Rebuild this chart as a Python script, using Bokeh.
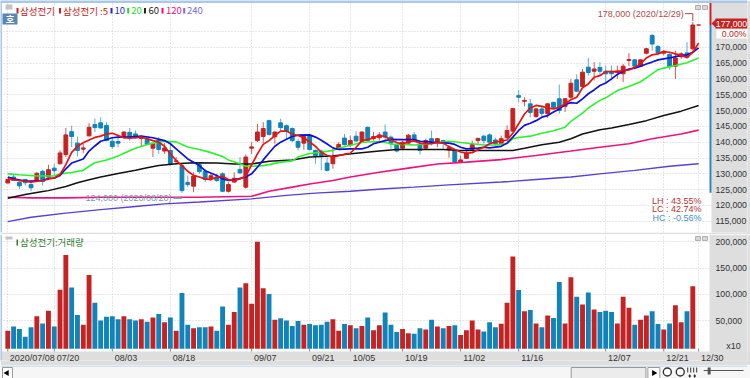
from bokeh.plotting import figure
from bokeh.layouts import column
from bokeh.models import (Range1d, FixedTicker, Grid, NumeralTickFormatter, Label, BoxAnnotation,
                          PolyAnnotation, Span, ColumnDataSource, LinearAxis)
from bokeh.embed import file_html
from bokeh.resources import INLINE

candle_top = [128200,129000,127300,128200,126600,130200,130800,131300,131800,136600,
 142300,143300,139700,138200,144700,145600,146100,145300,140300,140200,
 143200,143100,142600,141800,141100,139500,140700,138200,137400,134100,
 132600,127300,129300,132900,130700,129400,129000,130000,126600,128600,
 131400,135300,138500,143200,144300,146800,143200,146100,145200,144300,
 140200,141800,142100,137400,137200,133400,135300,139300,141300,140500,
 141900,143200,144700,141800,142300,143200,141600,139300,140000,142200,
 142300,139200,140500,141100,141100,140500,138300,137400,134400,136600,
 139300,141200,141900,142300,140700,141100,143700,150600,154700,153200,
 152100,150500,150500,152100,152600,153700,153700,158600,159700,162100,
 163700,163100,163600,162400,162400,162500,164000,166100,166000,166000,
 169500,173700,170200,168700,167700,166600,167900,168200,177000,177000]
candle_bottom = [127100,127900,126200,127200,125600,127900,127600,129000,131000,133200,
 136100,141800,137400,137800,142000,144600,144500,140500,138600,139700,
 141600,141600,141400,141200,139300,138100,137700,137200,133200,133900,
 124700,126600,126100,130700,128200,128500,127900,124500,124500,127400,
 130300,125800,138100,140500,141800,142400,141700,144600,143500,140500,
 138400,139700,137700,135800,135800,131100,133200,138100,139200,139200,
 140400,140200,140500,141100,141400,141600,139700,137200,138100,139700,
 140700,137400,138100,140000,140000,139700,137600,133700,133700,134900,
 137700,140500,140500,140000,139500,139500,141400,143500,154200,152900,
 149400,148100,149100,149000,151000,150000,151300,154200,156100,157600,
 162000,162400,162400,161600,161600,162000,161600,165800,164000,164000,
 168100,171000,168200,168100,164000,164000,167000,166800,169500,177000]
candle_high = [128200,130000,128400,128400,127900,130500,131300,132900,133200,137400,
 144500,145200,141800,139500,146000,147400,147900,146300,141600,142100,
 143400,144500,143700,142100,141600,140000,141600,139700,140000,135300,
 133200,129500,130500,133700,131600,130000,130000,130500,127400,130500,
 135300,136100,140000,145800,146300,147100,143500,147400,145600,144700,
 141100,142100,142400,137700,137700,135300,137900,140000,142600,142100,
 143400,143400,144900,143200,143200,145600,142100,139500,140500,142600,
 143200,140500,141100,143700,141300,140700,139000,137600,135800,137200,
 140500,141400,142300,142800,141400,142100,145300,150800,156500,154200,
 153700,150800,151600,152400,152600,158200,153900,159900,161400,163100,
 166600,165300,165300,164200,164200,164200,164700,168100,166300,166200,
 169800,174200,170700,169100,168100,168900,168400,171600,178000,177000]
candle_low = [127100,127900,125200,126300,124500,127400,126300,129000,129500,132900,
 135300,138400,135500,136500,141800,143200,144200,140300,137900,138400,
 141100,140500,141100,138400,139000,135300,136300,136300,132600,132900,
 124000,125800,124200,130000,127400,127900,127400,124200,124100,127100,
 130000,125300,136300,140000,139700,142100,139500,143500,141100,140000,
 137400,137600,137400,133200,131100,130700,131600,137600,139000,138400,
 140000,140000,140200,140500,140500,140500,137900,136800,137700,139300,
 140300,136100,137700,139000,138400,137900,135100,133500,133500,134700,
 137400,139000,139500,139500,139000,139300,141100,143200,152600,151300,
 147900,147700,148100,147700,150800,149000,149500,153700,155800,157200,
 161000,159500,161000,159000,159500,160000,159000,164000,163700,163700,
 167700,168900,167400,167400,162900,160000,166300,166300,168900,177000]
candle_dir = ("RBBBBRBRBR" "RBBRRBBBBB" "RBBRBRBRBR" "BBRBBRBBRR" "BRRRRBRBBB" "BRBBBBRRBR"
              "BRBRRBBBRR" "BBRBRBRBRR" "RRBBBRRRBR" "BRBRBBRRBR" "BRBBBRRRBR" "RBBRBRRBRR")

volume = [31000,39000,34500,19500,37500,58500,45000,69000,39000,109000,
 174500,113000,61000,42500,136500,84000,50500,57500,58500,53000,
 58500,53000,50500,53000,48000,56000,63000,47000,56000,31000,
 102500,42500,36000,37500,37500,39000,31000,77000,42500,66500,
 113000,121000,82000,200000,111500,100500,52000,54500,50500,40000,
 49500,42500,44000,41500,42500,48000,53000,31000,44000,41500,
 36000,40000,56000,32000,41500,65500,42500,28500,34500,26500,
 25500,36000,33500,52000,39000,36000,40000,41500,23000,32000,
 50500,33500,29500,47000,37500,44500,84000,172000,108500,68000,
 70500,45000,37500,60000,55000,123500,45000,132500,95500,81000,
 103500,71500,66500,69000,66500,45000,95500,74500,42500,52000,
 60000,68000,44000,33500,45000,79500,47000,68000,115500]

ma5_x = [0,2,4,6,8,9,10,11,12,13,14,15,16,17,18,19,20,21,22,23,24,25,26,27,28,29,30,31,32,33,34,35,36,37,38,39,40,41,42,
 43,44,45,46,47,48,49,50,51,52,53,54,55,56,57,58,59,60,61,62,63,64,65,66,67,68,69,70,71,72,73,74,75,76,77,78,79,80,81,82,83,84,85,86,87,88,89,90,91,92,93,94,95,96,97,98,99,100,101,102,103,104,105,106,107,108,109,110,111,112,113,114,115,116,117,118,119]
ma5 = [128400,127900,127400,127900,128700,129800,132900,136800,138700,139800,140700,141500,141900,142600,142800,142100,141400,141300,141400,141600,141100,140500,140000,138700,136300,134200,132600,130800,129500,129000,128400,128200,129000,129200,128200,127900,128400,129300,132800,
 136300,139300,140500,142100,143500,143500,142600,142100,141400,140000,138700,136800,135800,135300,135700,136200,136500,138400,140500,140800,141400,142100,141800,140700,139900,139400,140100,140400,139700,139500,139500,139900,139700,138600,137700,136900,136500,136700,137600,138400,139500,140100,140300,140700,142800,145800,148900,150800,151600,151300,150800,150500,151000,152100,153400,154200,157200,158400,160500,161000,162300,162300,162300,162600,162800,163700,164700,166600,167600,167900,168600,168400,167900,167400,166800,168400,171300]
ma10_x = [0,1,3,4,6,7,8,9,10,11,13,14,15,16,18,19,21,23,25,27,28,29,30,31,33,34,36,37,38,39,41,42,43,44,45,46,47,48,49,50,52,53,54,55,56,57,59,61,62,63,65,66,68,70,71,73,75,76,77,78,79,81,82,83,85,86,87,88,89,90,91,92,93,94,95,96,97,98,99,100,101,102,103,104,105,106,107,108,109,110,111,112,113,114,115,116,117,118,119]
ma10 = [129000,128400,127700,127700,127900,128600,128600,129500,131600,133400,134700,137200,138800,140300,141400,141600,141600,141900,141400,140500,139500,137900,136300,134700,132600,131000,129500,128400,127900,128100,129000,130000,132100,134400,136600,138700,140000,140900,141800,142200,142300,141600,140600,139400,138200,137700,137900,137900,138400,139500,140500,140900,140800,140800,140300,140000,139800,139700,139300,138400,137900,138100,138400,138200,138700,139700,141600,143700,145300,146000,146800,147900,148400,149500,150500,151900,152500,152300,153700,155300,156500,157900,158700,160000,161400,162400,163100,163400,164000,164700,165300,166000,166300,166600,167000,167400,167600,168400,169800]
ma20_x = [0,2,5,7,8,9,11,13,14,15,17,19,20,22,24,26,27,29,30,31,33,35,37,38,40,41,42,44,45,47,49,50,52,54,56,57,59,61,63,65,66,68,70,72,74,76,78,80,82,84,85,86,87,88,90,92,94,96,97,99,100,102,103,105,107,109,110,112,113,115,117,119]
ma20 = [130000,129700,129300,129300,129300,130000,130400,131100,132400,133500,134400,135600,136500,138100,139300,140000,140300,140100,139300,138500,137700,136700,135500,134400,133200,132400,132400,132600,132900,133700,134100,135300,136400,136800,137400,138100,139000,139900,140200,140000,139400,139300,139100,139400,139800,140300,139900,139500,139100,139100,139300,139500,141100,141500,141900,142800,143600,144700,146600,149200,150800,153200,154000,156300,157600,159100,160300,162900,163400,164200,165100,166600]
ma60_x = [0,3,6,7,10,12,14,16,19,22,24,26,29,32,36,39,42,45,49,52,56,58,60,64,67,71,75,78,85,87,89,92,95,97,99,102,104,107,110,113,116,119]
ma60 = [122300,123500,124400,124700,126000,127200,128100,129000,130100,131100,131900,132600,133200,133500,133400,133100,133100,134000,134400,135300,135600,136100,136500,137200,137700,137700,137700,137400,137400,137400,138100,139200,140000,141100,142600,143900,144500,145600,146800,148400,149800,151600]
ma120_x = [0,4,10,16,22,27,33,42,45,49,52,56,59,64,69,74,79,85,91,97,102,107,111,116,119]
ma120 = [122600,122400,122400,122600,122600,122600,122600,122900,124500,125800,126800,127900,129000,130500,131800,133100,133700,134500,135800,137200,138400,139500,141100,142600,143800]
ma240_x = [0,4,10,16,22,27,33,42,48,53,59,65,70,76,85,91,97,102,108,114,119]
ma240 = [114900,116300,117600,118700,119700,120500,121100,122100,123200,123900,124500,125300,125800,126500,127400,128200,129000,130000,131100,132400,133200]

date_idx = [0,8,18,28,42,52,59,68,78,88,103,113,119]
date_labels = ["2020/07/08","07/20","08/03","08/18","09/07","09/21","10/05","10/19","11/02","11/16","12/07","12/21","12/30"]
date_label_centre = [4.2] + [i + 2.35 for i in date_idx[1:]]
price_labels_ticks = [115000,120000,125000,130000,135000,140000,145000,150000,155000,160000,165000,170000]
price_grid_ticks = price_labels_ticks + [175000]
volume_ticks = [50000,100000,150000,200000]
last_close = 177000
high_value, high_idx = 178000, 118
low_value, low_idx = 124000, 30

RED, BLUE = "#c62222", "#0f83ba"
RED_W, BLUE_W = "#cf5a5a", "#58aed6"
GREY = "#dedede"
GRID = "#cfcfcf"
SANS = "Liberation Sans"
KR = "Noto Sans CJK KR"
W = 750
FS = "8.7px"
X0, X1 = -1.258, 127.42

def base(height, y_start, y_end, bottom):
    p = figure(width=W, height=height, x_range=Range1d(X0, X1), y_range=Range1d(y_start, y_end),
               output_backend="svg", toolbar_location=None, x_axis_location=None, y_axis_location="right",
               min_border_left=0, min_border_top=0, min_border_right=3, min_border_bottom=bottom)
    p.border_fill_color = GREY
    p.background_fill_color = "white"
    p.outline_line_color = None
    p.grid.visible = False
    a = p.yaxis[0]
    a.axis_line_color = None
    a.major_tick_line_color = None
    a.minor_tick_line_color = None
    a.major_tick_in = 0
    a.major_tick_out = 0
    a.minor_tick_in = 0
    a.minor_tick_out = 0
    a.major_label_standoff = -32
    a.major_label_text_font = SANS
    a.major_label_text_font_size = FS
    a.major_label_text_color = "#333333"
    a.formatter = NumeralTickFormatter(format="0,0")
    return p

def label(p, x, y, text, color, size=FS, font=SANS, align="left", style="normal"):
    p.add_layout(Label(x=x, y=y, x_units="canvas", y_units="canvas", text=text, text_color=color,
                       text_font=font, text_font_size=size, text_align=align, text_baseline="middle",
                       text_font_style=style))

def box(p, l, r, t, b, fill, line=None, level="annotation"):
    p.add_layout(BoxAnnotation(left=l, right=r, top=t, bottom=b, left_units="canvas", right_units="canvas",
                               top_units="canvas", bottom_units="canvas", fill_color=fill, fill_alpha=1,
                               line_color=line, line_alpha=1 if line else 0, level=level))

# ---------------- price panel ----------------
PY0, PY1 = 111471, 184750
price = base(234, PY0, PY1, 2)
price.yaxis[0].ticker = FixedTicker(ticks=price_labels_ticks)
price.add_layout(Grid(dimension=0, ticker=FixedTicker(ticks=date_idx), grid_line_color=GRID, grid_line_dash="1 2"))
price.add_layout(Grid(dimension=1, ticker=FixedTicker(ticks=price_grid_ticks), grid_line_color=GRID, grid_line_dash="1 2"))
box(price, 711, 750, 0, 234, GREY, level="underlay")

n = len(candle_top)
idx = list(range(n))
csrc = ColumnDataSource(dict(x=idx, top=candle_top, bottom=candle_bottom, high=candle_high, low=candle_low,
                             body=[RED if d == "R" else BLUE for d in candle_dir],
                             wick=[RED_W if d == "R" else BLUE_W for d in candle_dir]))
price.segment("x", "high", "x", "low", source=csrc, line_color="wick", line_width=1)
price.vbar("x", 0.66, "bottom", "top", source=csrc, fill_color="body", line_color="body", line_width=1)

price.line(ma240_x, ma240, line_color="#5b3fd2", line_width=1.4)
price.line(ma120_x, ma120, line_color="#ee1280", line_width=1.6)
price.line(ma60_x, ma60, line_color="#111111", line_width=1.5)
price.line(ma20_x, ma20, line_color="#2cf22c", line_width=1.6)
price.line(ma10_x, ma10, line_color="#0a12d8", line_width=1.7)
price.line(ma5_x, ma5, line_color="#ea1212", line_width=1.7)

# high / low call-outs
price.line([high_idx - 1.35, high_idx, high_idx], [high_value + 2600, high_value + 2600, high_value + 300],
           line_color="#b04a4a", line_width=1)
price.line([low_idx - 1.5, low_idx], [low_value - 1700, low_value - 1700], line_color="#7ea6c0", line_width=1.4)
price.add_layout(Label(x=high_idx, y=high_value, x_offset=-9, y_offset=7.5, text="178,000 (2020/12/29)",
                       text_color="#b04a4a", text_font=SANS, text_font_size="9px", text_align="right",
                       text_baseline="middle"))
price.add_layout(Label(x=low_idx, y=low_value, x_offset=-10.5, y_offset=-4.7, text="124,000 (2020/08/20)",
                       text_color="#7299b3", text_font=SANS, text_font_size="9px", text_align="right",
                       text_baseline="middle"))

# strip on the price scale
price.add_layout(BoxAnnotation(left=709, right=711, left_units="canvas", right_units="canvas",
                               bottom=last_close, top=PY1, fill_color="#c62222", fill_alpha=1, line_alpha=0))
price.add_layout(BoxAnnotation(left=709, right=711, left_units="canvas", right_units="canvas",
                               bottom=low_value, top=last_close, fill_color="#2a86c0", fill_alpha=1, line_alpha=0))
price.add_layout(PolyAnnotation(xs=[711, 716, 716], ys=[23, 18, 28], xs_units="canvas", ys_units="canvas",
                                fill_color="#c62222", fill_alpha=1, line_alpha=0))
box(price, 715, 747, 18, 28, "#c62222")
label(price, 731, 23, "177,000", "white", align="center")
box(price, 716, 747, 29, 38, "white")
label(price, 746, 33.5, "0.00%", "#c62222", align="right")

# stats
label(price, 701, 200, "LH : 43.55%", "#b03434", align="right", size="9px")
label(price, 701, 208.5, "LC : 42.74%", "#b03434", align="right", size="9px")
label(price, 701, 217, "HC : -0.56%", "#3f93c4", align="right", size="9px")

# legend
leg = [(16, 19.5, "삼성전기", "#c62222"), (58.5, 62.5, "삼성전기 :5", "#c62222"), (110, 114, "10", "#1f2ad8"),
       (126.7, 130.7, "20", "#25dd25"), (143.5, 148, "60", "#222222"), (161, 165.5, "120", "#e6117f"),
       (182.7, 186.5, "240", "#7a6ad8")]
for mx, tx, t, c in leg:
    box(price, mx, mx + 2, 13, 7.5, c)
    label(price, tx, 10, t, c, size="9.5px", font=KR)
box(price, 5, 12, 9, 4, "#c4c4c4")
box(price, 2, 17, 24, 13, "#5b86ae")
label(price, 9.5, 18.5, "호", "white", size="9.5px", font=KR, align="center", style="bold")
box(price, 695, 700, 9, 5, "#d8d8d8", "#b0b0b0")
box(price, 702, 707, 9, 5, "#d8d8d8", "#b0b0b0")
price.add_layout(Span(location=PY1, dimension="width", line_color="#a9c9e8", line_width=5))
price.add_layout(Span(location=X0, dimension="height", line_color="#a9c9e8", line_width=3))

# ---------------- volume panel ----------------
# frame runs 129 px below the top of this canvas; the date strip lies inside it
VY1 = 213518
VY_BASE = -3148
VY0 = -25371
vol = base(131, VY0, VY1, 2)
vol.yaxis[0].ticker = FixedTicker(ticks=volume_ticks)
vol.add_layout(Grid(dimension=0, ticker=FixedTicker(ticks=date_idx), grid_line_color=GRID, grid_line_dash="1 2"))
vol.add_layout(Grid(dimension=1, ticker=FixedTicker(ticks=volume_ticks), grid_line_color=GRID, grid_line_dash="1 2"))
box(vol, 709, 750, 0, 131, GREY, level="underlay")
box(vol, 0, 750, 117, 131, GREY, level="underlay")
vsrc = ColumnDataSource(dict(x=idx[:len(volume)], top=volume, bottom=[VY_BASE] * len(volume),
                             c=[RED if d == "R" else BLUE for d in candle_dir[:len(volume)]]))
vol.vbar("x", 0.84, "bottom", "top", source=vsrc, fill_color="c", line_color=None)
vol.segment(date_idx, [VY_BASE] * len(date_idx), date_idx, [VY_BASE - 5000] * len(date_idx),
            line_color="#888888", line_width=1)

xa = LinearAxis(ticker=FixedTicker(ticks=date_label_centre),
                major_label_overrides=dict(zip(date_label_centre, date_labels)),
                major_label_text_font=SANS, major_label_text_font_size="9px", major_label_text_color="#333333",
                axis_line_color=None, major_tick_line_color=None, major_tick_in=0, major_tick_out=0,
                minor_tick_line_color=None, minor_tick_in=0, minor_tick_out=0, major_label_standoff=-8)
vol.add_layout(xa, "below")

box(vol, 16, 17.5, 11, 5, "#2e7d32")
label(vol, 19.5, 7.5, "삼성전기:거래량", "#2e7d32", size="9.5px", font=KR)
box(vol, 5, 12, 5, 2, "#c4c4c4")
box(vol, 695, 700, 6, 2, "#d8d8d8", "#b0b0b0")
box(vol, 702, 707, 6, 2, "#d8d8d8", "#b0b0b0")
label(vol, 733, 111, "x10", "#333333", align="center", size="9px")
vol.add_layout(Span(location=X0, dimension="height", line_color="#a9c9e8", line_width=3))

# ---------------- window strip at the bottom ----------------
bar = figure(width=W, height=13, x_range=Range1d(0, 750), y_range=Range1d(378, 365), output_backend="svg",
             toolbar_location=None, x_axis_location=None, y_axis_location=None, min_border=0)
bar.border_fill_color = "#f6f6f6"
bar.background_fill_color = "#f6f6f6"
bar.outline_line_color = None
bar.grid.visible = False
bar.quad(left=[0], right=[750], top=[365], bottom=[366], fill_color="#a9c9e8", line_color=None)
bar.quad(left=[573], right=[648], top=[367], bottom=[378], fill_color="#ececec", line_color="#999999")
bar.quad(left=[2, 650], right=[12, 662], top=[367, 367], bottom=[378, 378], fill_color="white", line_color="#999999")
bar.scatter([6.5], [372.5], marker="triangle", size=6, angle=1.5708, fill_color="black", line_color=None)
bar.scatter([656], [372.5], marker="triangle", size=6, angle=-1.5708, fill_color="black", line_color=None)
bar.scatter([669.5, 682.5], [371.5, 371.5], marker="circle", size=8, fill_color="white", line_color="#333333", line_width=1.4)
bar.segment([690, 693, 696, 699], [367] * 4, [690, 693, 696, 699], [372] * 4, line_color="#333333")
bar.scatter([692, 697], [375.5, 375.5], marker="diamond", size=4, fill_color="#333333", line_color=None)
bar.segment([706], [370], [746], [370], line_color="#555555", line_width=1)
bar.quad(left=[710], right=[713], top=[367], bottom=[374], fill_color="#555555", line_color=None)

page = column(price, vol, bar, spacing=0)
open("out.html", "w").write(file_html(page, INLINE))
